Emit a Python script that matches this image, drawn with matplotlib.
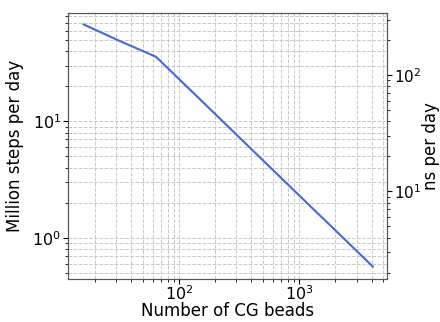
import numpy as np
import matplotlib
matplotlib.use("Agg")
import matplotlib.pyplot as plt

# number of CG beads vs throughput (million steps per day)
n_beads = [16, 32, 64, 128, 256, 512, 1024, 2048, 4096]
msteps_per_day = [68.0, 49.0, 35.9, 18.0, 9.0, 4.5, 2.25, 1.13, 0.565]
timestep_fs = 4  # ns per day = million steps * fs

fig, ax = plt.subplots(figsize=(4.4, 3.22), dpi=100)
ax.plot(n_beads, msteps_per_day, color="royalblue", lw=1.5)
ax.set_xscale("log")
ax.set_yscale("log")
ax.set_xlim(11.9, 5400)
ax.set_ylim(0.446, 85.5)
ax.grid(which="both", ls="--", color="#c8c8c8", lw=0.7)
ax.set_xlabel("Number of CG beads", fontsize=12)
ax.set_ylabel("Million steps per day", fontsize=12)
ax.xaxis.set_label_coords(0.5, -0.088)
ax.yaxis.set_label_coords(-0.14, 0.5)
ax.tick_params(labelsize=11.5, pad=1.5)
ax.tick_params(axis="x", pad=1)
ax.tick_params(which="major", length=3.5)
ax.tick_params(which="minor", length=2)

ax2 = ax.twinx()
ax2.set_yscale("log")
lo, hi = ax.get_ylim()
ax2.set_ylim(lo * timestep_fs, hi * timestep_fs)
ax2.set_ylabel("ns per day", fontsize=12)
ax2.yaxis.set_label_coords(1.11, 0.5)
ax2.tick_params(labelsize=11, pad=1.5)
ax2.tick_params(which="major", length=3.5)
ax2.tick_params(which="minor", length=2)

for a in (ax, ax2):
    for s in a.spines.values():
        s.set_color("#555555")

fig.subplots_adjust(left=0.155, right=0.88, top=0.96, bottom=0.135)
fig.savefig("out.png", dpi=100)
